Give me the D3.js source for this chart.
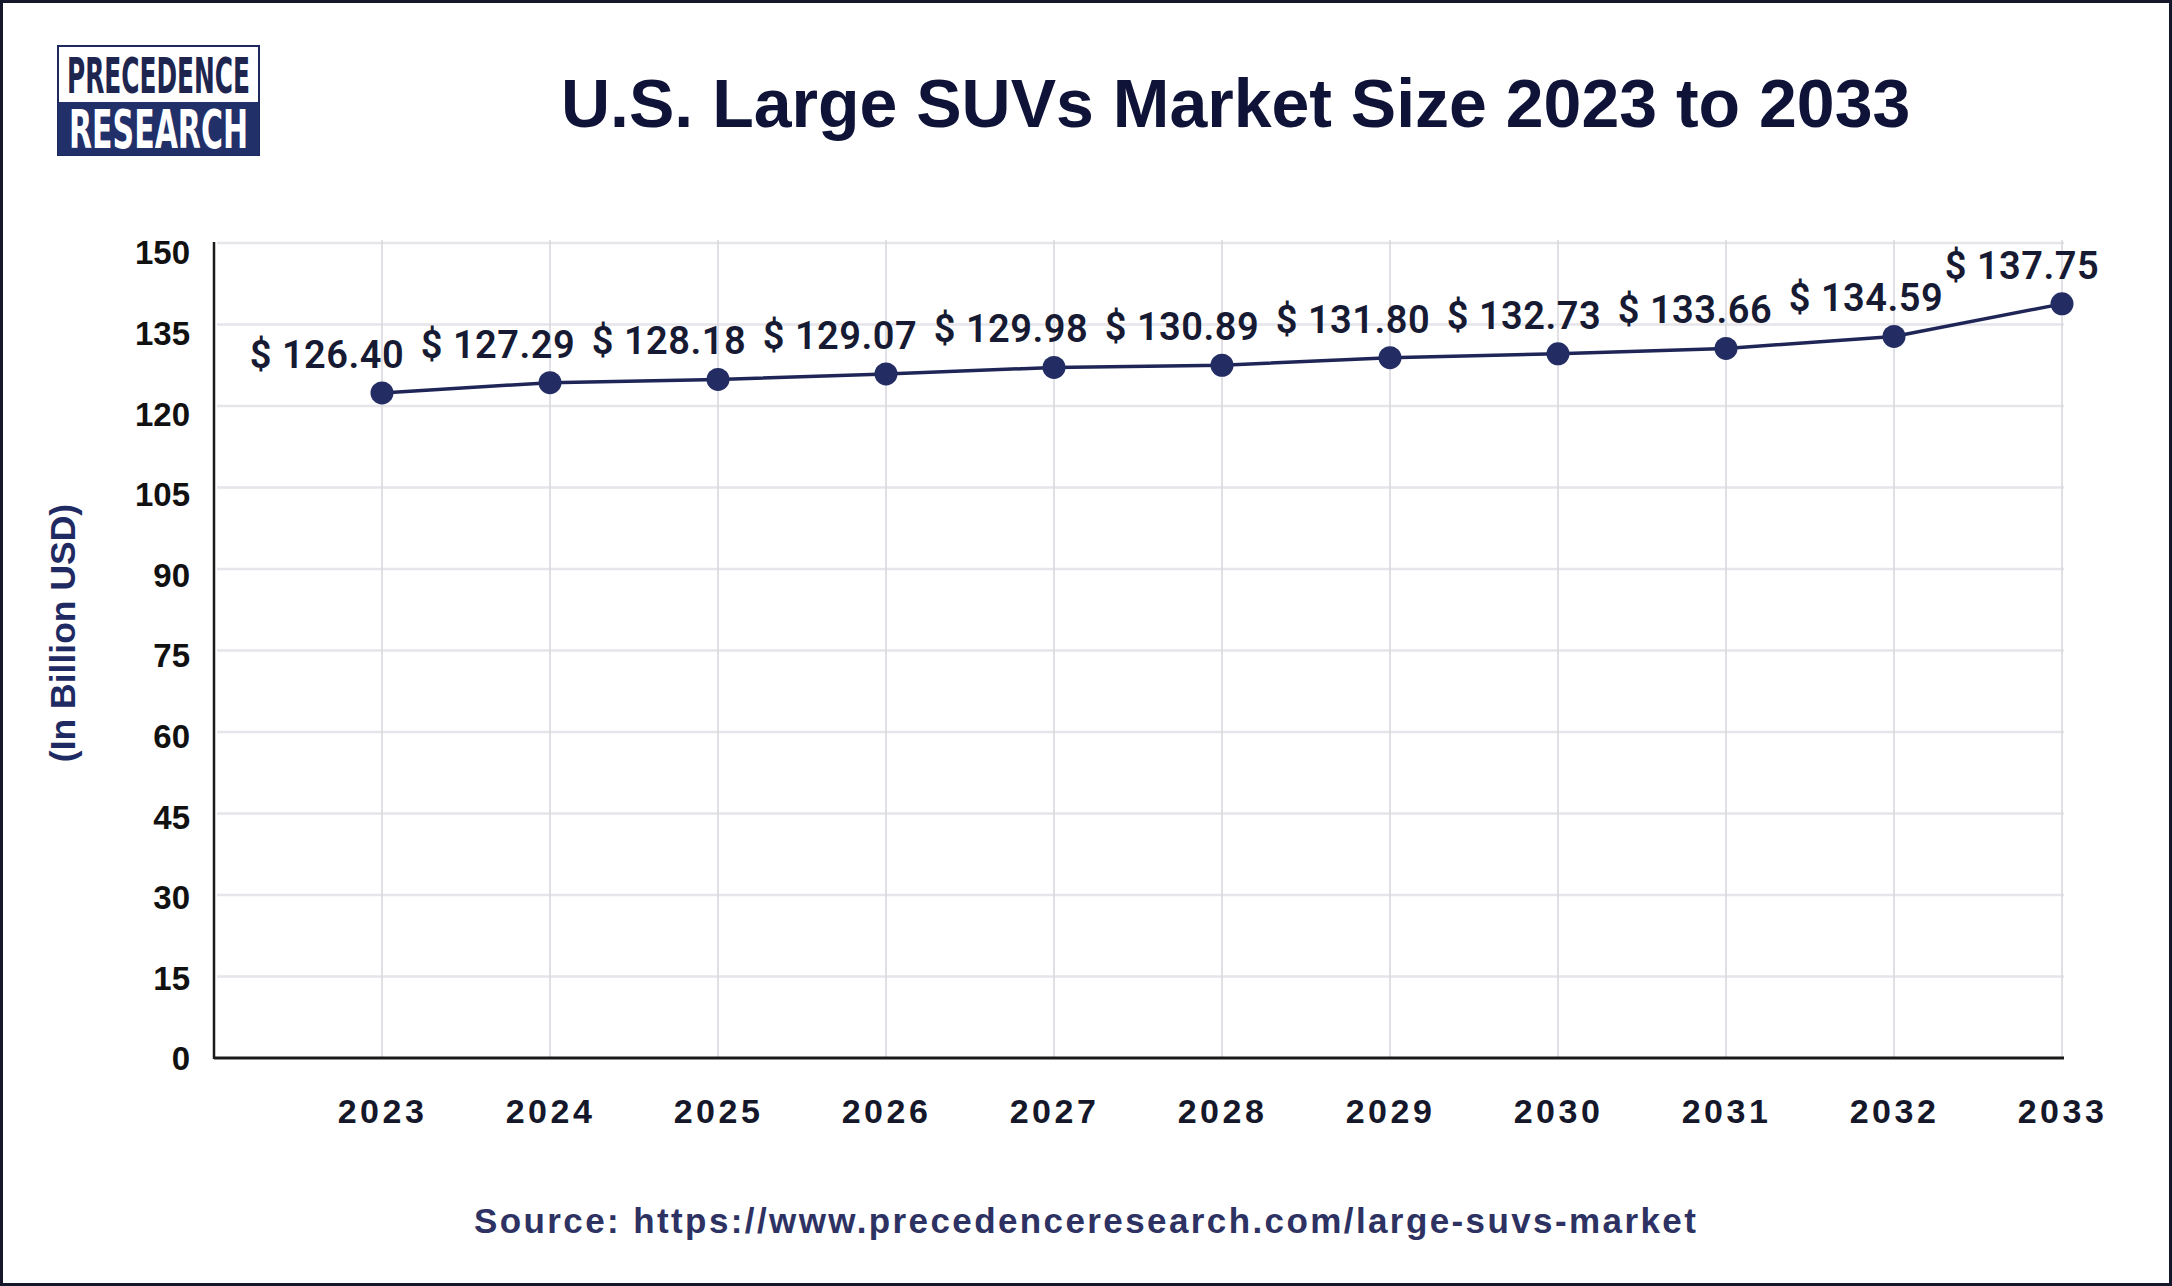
<!DOCTYPE html>
<html>
<head>
<meta charset="utf-8">
<script src="https://cdn.jsdelivr.net/npm/d3@7/dist/d3.min.js"></script>
<style>
  html, body { margin: 0; padding: 0; background: #ffffff; }
  svg { display: block; }
</style>
</head>
<body>
<svg id="chart" width="2172" height="1286"></svg>
<script>
// ---- data ----
const years = [2023, 2024, 2025, 2026, 2027, 2028, 2029, 2030, 2031, 2032, 2033];
// plotted positions as drawn in the reference
const plotted = [122.4, 124.3, 124.9, 125.9, 127.1, 127.5, 128.9, 129.6, 130.6, 132.8, 138.8];
// value labels as printed in the reference
const valueLabels = ["126.40", "127.29", "128.18", "129.07", "129.98", "130.89", "131.80", "132.73", "133.66", "134.59", "137.75"];
const yTicks = [0, 15, 30, 45, 60, 75, 90, 105, 120, 135, 150];
const titleText = "U.S. Large SUVs Market Size 2023 to 2033";
const yTitle = "(In Billion USD)";
const sourceText = "Source: https://www.precedenceresearch.com/large-suvs-market";

// ---- layout ----
const W = 2172, H = 1286;
const plotLeft = 214, plotRight = 2064, plotTop = 243, plotBottom = 1058;
const navy = "#1f2657";

const svg = d3.select("#chart");

svg.append("rect").attr("x", 0).attr("y", 0).attr("width", W).attr("height", H)
  .attr("fill", "#ffffff");

const x = d3.scaleLinear().domain([2022, 2033]).range([plotLeft, 2062]);
const y = d3.scaleLinear().domain([0, 150]).range([plotBottom, plotTop]);
// tick labels sit on a slightly compressed scale in the reference
const yLab = d3.scaleLinear().domain([0, 150]).range([plotBottom, 252]);

// horizontal gridlines
svg.append("g")
  .selectAll("line").data(yTicks.filter(d => d > 0)).join("line")
  .attr("x1", plotLeft + 3).attr("x2", plotRight)
  .attr("y1", d => y(d)).attr("y2", d => y(d))
  .attr("stroke", "#e5e5ea").attr("stroke-width", 2.5);

// vertical gridlines
svg.append("g")
  .selectAll("line").data(years).join("line")
  .attr("x1", d => x(d)).attr("x2", d => x(d))
  .attr("y1", plotTop - 3).attr("y2", plotBottom)
  .attr("stroke", "#d9d9df").attr("stroke-width", 1.6);

// y tick labels via axis
const yAxis = svg.append("g")
  .attr("transform", `translate(${plotLeft - 24},0)`)
  .call(d3.axisLeft(yLab).tickValues(yTicks).tickSize(0).tickPadding(0));
yAxis.select(".domain").remove();
yAxis.selectAll("text")
  .attr("font-family", "'Liberation Sans', Arial, sans-serif")
  .attr("font-weight", "bold").attr("font-size", 33).attr("fill", "#111111")
  .attr("dy", "0.36em");

// x tick labels via axis
const xAxis = svg.append("g")
  .attr("transform", `translate(0,${plotBottom})`)
  .call(d3.axisBottom(x).tickValues(years).tickFormat(d3.format("d")).tickSize(0).tickPadding(0));
xAxis.select(".domain").remove();
xAxis.selectAll("text")
  .attr("font-family", "'Liberation Sans', Arial, sans-serif")
  .attr("font-weight", "bold").attr("font-size", 34).attr("fill", "#15172a")
  .attr("letter-spacing", "3.5px")
  .attr("dx", 0).attr("dy", 0).attr("y", 65)
  .attr("dominant-baseline", "auto");

// axis lines
svg.append("line").attr("x1", plotLeft).attr("x2", plotLeft)
  .attr("y1", plotTop - 1).attr("y2", plotBottom + 1)
  .attr("stroke", "#1a1a1a").attr("stroke-width", 2.5);
svg.append("line").attr("x1", plotLeft).attr("x2", plotRight)
  .attr("y1", plotBottom).attr("y2", plotBottom)
  .attr("stroke", "#1a1a1a").attr("stroke-width", 3);

// line
const pts = years.map((yr, i) => ({ yr, v: plotted[i], lab: valueLabels[i], i }));
svg.append("path").datum(pts)
  .attr("d", d3.line().x(d => x(d.yr)).y(d => y(d.v)))
  .attr("fill", "none").attr("stroke", navy).attr("stroke-width", 3.5);

// points
svg.append("g").selectAll("circle").data(pts).join("circle")
  .attr("cx", d => x(d.yr)).attr("cy", d => y(d.v)).attr("r", 11.5)
  .attr("fill", "#232d63");

// value labels
svg.append("g").selectAll("text").data(pts).join("text")
  .attr("x", d => x(d.yr) + (d.i < pts.length - 1 ? (-55 + 3 * d.i) : -40))
  .attr("y", d => y(d.v) - 25)
  .attr("text-anchor", "middle")
  .attr("font-family", "Roboto, 'Liberation Sans', sans-serif")
  .attr("font-weight", 600).attr("font-size", 38)
  .attr("letter-spacing", "0.5px")
  .attr("fill", "#171a33")
  .text(d => "$ " + d.lab);

// title
svg.append("text").attr("x", 561).attr("y", 127)
  .attr("font-family", "'Liberation Sans', Arial, sans-serif")
  .attr("font-weight", "bold").attr("font-size", 68).attr("fill", "#0e1337")
  .text(titleText);

// y-axis title
svg.append("text")
  .attr("transform", "translate(75,633) rotate(-90)")
  .attr("text-anchor", "middle")
  .attr("font-family", "'Liberation Sans', Arial, sans-serif")
  .attr("font-weight", "bold").attr("font-size", 35.5).attr("fill", "#1f2a62")
  .text(yTitle);

// source
svg.append("text").attr("x", 474).attr("y", 1233)
  .attr("font-family", "'Liberation Sans', Arial, sans-serif")
  .attr("font-weight", "bold").attr("font-size", 35).attr("fill", "#2d3263")
  .attr("letter-spacing", "2.4px")
  .text(sourceText);

// logo
const logo = svg.append("g");
logo.append("rect").attr("x", 58).attr("y", 46).attr("width", 201).attr("height", 109)
  .attr("fill", "#ffffff").attr("stroke", "#1e2a5e").attr("stroke-width", 2);
logo.append("rect").attr("x", 58).attr("y", 102).attr("width", 201).attr("height", 53)
  .attr("fill", "#22306a");
logo.append("text").attr("x", 67).attr("y", 93)
  .attr("font-family", "'Liberation Sans Narrow', 'DejaVu Sans Condensed', sans-serif")
  .attr("font-weight", "bold").attr("font-size", 49).attr("fill", "#1e2650")
  .attr("textLength", 183).attr("lengthAdjust", "spacingAndGlyphs")
  .text("PRECEDENCE");
logo.append("text").attr("x", 69).attr("y", 148)
  .attr("font-family", "'Liberation Sans Narrow', 'DejaVu Sans Condensed', sans-serif")
  .attr("font-weight", "bold").attr("font-size", 53).attr("fill", "#ffffff")
  .attr("textLength", 179).attr("lengthAdjust", "spacingAndGlyphs")
  .text("RESEARCH");

// frame
svg.append("rect").attr("x", 1.5).attr("y", 1.5).attr("width", W - 3).attr("height", H - 3)
  .attr("fill", "none").attr("stroke", "#15172a").attr("stroke-width", 3);
</script>
</body>
</html>
